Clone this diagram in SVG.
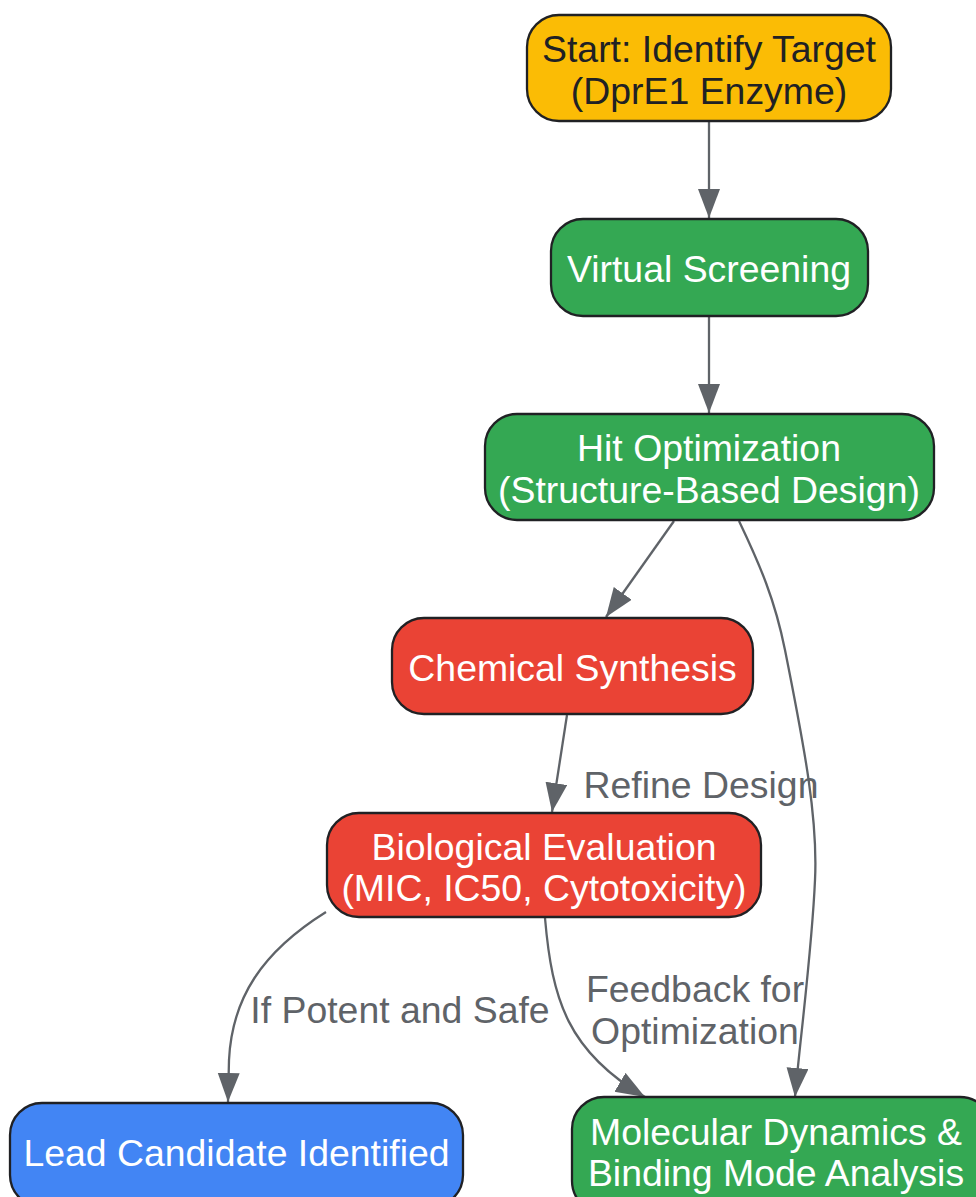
<svg xmlns="http://www.w3.org/2000/svg" width="976" height="1197" viewBox="0 0 976 1197">
<style>
.node rect{stroke:#202124;stroke-width:2.3}
.lbl{font-family:"Liberation Sans",Arial,sans-serif;font-size:37.4px;text-anchor:middle}
.w{fill:#ffffff}
.d{fill:#202124}
.e{fill:none;stroke:#5f6368;stroke-width:2.3}
.el{font-family:"Liberation Sans",Arial,sans-serif;font-size:37.4px;text-anchor:middle;fill:#5f6368}
</style>
<defs>
<marker id="ah" markerUnits="userSpaceOnUse" markerWidth="30" markerHeight="24" refX="29" refY="11" orient="auto">
<path d="M0,0 L29,11 L0,22 Z" fill="#5f6368"/>
</marker>
</defs>
<rect width="976" height="1197" fill="#ffffff"/>
<g id="connectors">
<path class="e" d="M709,121 L709,218" marker-end="url(#ah)"/>
<path class="e" d="M709,316 L709,413" marker-end="url(#ah)"/>
<path class="e" d="M674,521 L606,617" marker-end="url(#ah)"/>
<path class="e" d="M739,521 C760,565 775,600 785,650 C805,750 818,820 815,880 C812,950 800,1040 795,1097" marker-end="url(#ah)"/>
<path class="e" d="M567,715 L552,812" marker-end="url(#ah)"/>
<path class="e" d="M326,912 C262,952 232,998 229,1060 L228,1102" marker-end="url(#ah)"/>
<path class="e" d="M545,918 C552,1000 568,1052 645,1097" marker-end="url(#ah)"/>
<text class="el" x="701" y="798">Refine Design</text>
<text class="el" x="400" y="1023">If Potent and Safe</text>
<text class="el" x="695" y="1002">Feedback for</text>
<text class="el" x="695" y="1044">Optimization</text>
</g>
<g id="start" class="node">
<rect x="527" y="15" width="364" height="106" rx="32" fill="#fbbc05"/>
<text class="lbl d" x="709" y="62">Start: Identify Target</text>
<text class="lbl d" x="709" y="104">(DprE1 Enzyme)</text>
</g>
<g id="vs" class="node">
<rect x="551" y="219" width="317" height="97" rx="32" fill="#34a853"/>
<text class="lbl w" x="709" y="282">Virtual Screening</text>
</g>
<g id="hit" class="node">
<rect x="485" y="414" width="449" height="106" rx="32" fill="#34a853"/>
<text class="lbl w" x="709" y="461">Hit Optimization</text>
<text class="lbl w" x="709" y="503">(Structure-Based Design)</text>
</g>
<g id="chem" class="node">
<rect x="392" y="618" width="361" height="96" rx="32" fill="#ea4335"/>
<text class="lbl w" x="572.5" y="681">Chemical Synthesis</text>
</g>
<g id="bio" class="node">
<rect x="327" y="813" width="434" height="104" rx="32" fill="#ea4335"/>
<text class="lbl w" x="544" y="860">Biological Evaluation</text>
<text class="lbl w" x="544" y="901">(MIC, IC50, Cytotoxicity)</text>
</g>
<g id="lead" class="node">
<rect x="10" y="1103" width="453" height="104" rx="32" fill="#4285f4"/>
<text class="lbl w" x="236.5" y="1166">Lead Candidate Identified</text>
</g>
<g id="md" class="node">
<rect x="572" y="1097" width="420" height="116" rx="32" fill="#34a853"/>
<text class="lbl w" x="776" y="1145">Molecular Dynamics &amp;</text>
<text class="lbl w" x="776" y="1186">Binding Mode Analysis</text>
</g>
</svg>
